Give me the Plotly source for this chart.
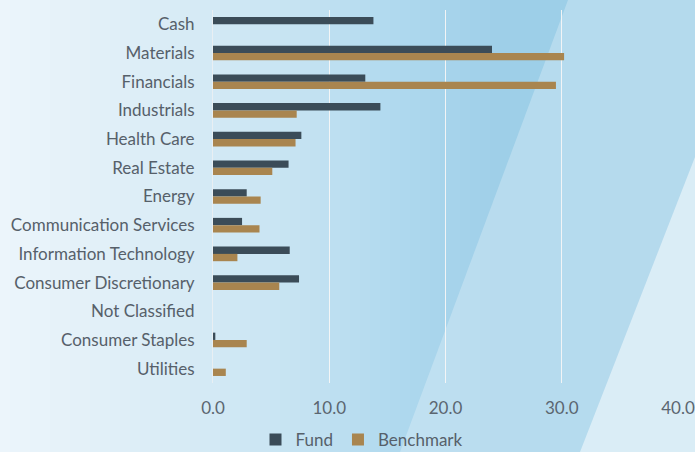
import plotly.graph_objects as go

categories = ["Cash", "Materials", "Financials", "Industrials", "Health Care", "Real Estate",
              "Energy", "Communication Services", "Information Technology",
              "Consumer Discretionary", "Not Classified", "Consumer Staples", "Utilities"]
fund = [13.8, 24.0, 13.1, 14.4, 7.6, 6.5, 2.9, 2.5, 6.6, 7.4, 0.0, 0.2, 0.0]
benchmark = [0.0, 30.2, 29.5, 7.2, 7.1, 5.1, 4.1, 4.0, 2.1, 5.7, 0.0, 2.9, 1.1]
x_ticks = [0, 10, 20, 30, 40]
x_tick_labels = ["0.0", "10.0", "20.0", "30.0", "40.0"]

W, H = 695, 452
ML, MR, MT, MB = 213, 17, 10, 69
PW, PH = W - ML - MR, H - MT - MB

def px(x):
    return (x - ML) / PW

def py(y):
    return (H - MB - y) / PH

# background gradient stops (pixel x, rgb)
stops = [(0, (236, 245, 251)), (100, (226, 240, 248)), (200, (213, 234, 245)),
         (300, (197, 227, 242)), (400, (175, 216, 238)), (500, (158, 207, 232)),
         (695, (154, 206, 231))]

def color_at(x):
    for (x0, c0), (x1, c1) in zip(stops[:-1], stops[1:]):
        if x0 <= x <= x1:
            t = (x - x0) / (x1 - x0)
            return "rgb(%d,%d,%d)" % tuple(round(a + (b - a) * t) for a, b in zip(c0, c1))
    return "rgb(%d,%d,%d)" % stops[-1][1]

shapes = []
step = 10
for x in range(0, W, step):
    shapes.append(dict(type="rect", xref="paper", yref="paper",
                       x0=px(x), x1=px(min(x + step + 1, W)), y0=py(H), y1=py(0),
                       fillcolor=color_at(x + step / 2), line=dict(width=0), layer="below"))

def path(points):
    return "M " + " L ".join("%f,%f" % (px(a), py(b)) for a, b in points) + " Z"

shapes.append(dict(type="path", xref="paper", yref="paper",
                   path=path([(568, 0), (W, 0), (W, H), (400, H)]),
                   fillcolor="rgba(255,255,255,0.26)", line=dict(width=0), layer="below"))
shapes.append(dict(type="path", xref="paper", yref="paper",
                   path=path([(W, 157), (W, H), (580, H)]),
                   fillcolor="rgba(255,255,255,0.5)", line=dict(width=0), layer="below"))

fig = go.Figure()
fig.add_trace(go.Bar(y=categories, x=fund, name="Fund", orientation="h",
                     marker=dict(color="#3b4c58", line=dict(width=0))))
fig.add_trace(go.Bar(y=categories, x=benchmark, name="Benchmark", orientation="h",
                     marker=dict(color="#a9854f", line=dict(width=0))))

fig.update_layout(
    width=W, height=H,
    margin=dict(l=ML, r=MR, t=MT, b=MB, autoexpand=False),
    paper_bgcolor="#eef6fb", plot_bgcolor="rgba(0,0,0,0)",
    barmode="group", bargap=0.49, bargroupgap=0,
    font=dict(family="Lato, 'Open Sans', sans-serif", color="#56606a", size=17),
    shapes=shapes,
    showlegend=True,
    legend=dict(orientation="h", xref="paper", yref="paper",
                x=px(362), xanchor="center", y=py(440), yanchor="middle",
                font=dict(size=17, color="#56606a"), bgcolor="rgba(0,0,0,0)",
                itemwidth=30, traceorder="normal", tracegroupgap=0),
    xaxis=dict(range=[0, 40], tickvals=x_ticks, ticktext=x_tick_labels,
               showgrid=True, gridcolor="rgba(245,245,245,0.95)", gridwidth=1,
               zeroline=False, showline=False, ticks="", ticklabelstandoff=13,
               tickfont=dict(size=17, color="#5b6670"), fixedrange=True),
    yaxis=dict(autorange="reversed", showgrid=False, zeroline=False,
               showline=True, linecolor="rgba(235,240,243,0.9)", linewidth=1,
               ticks="", ticklabelstandoff=14,
               tickfont=dict(size=17, color="#56606a")),
)

fig.write_html("out.html", config={"displayModeBar": False},
               post_script=("document.body.style.margin='0';"
                            "document.body.style.overflow='hidden';"
                            "document.body.style.fontVariantLigatures='none';"))
